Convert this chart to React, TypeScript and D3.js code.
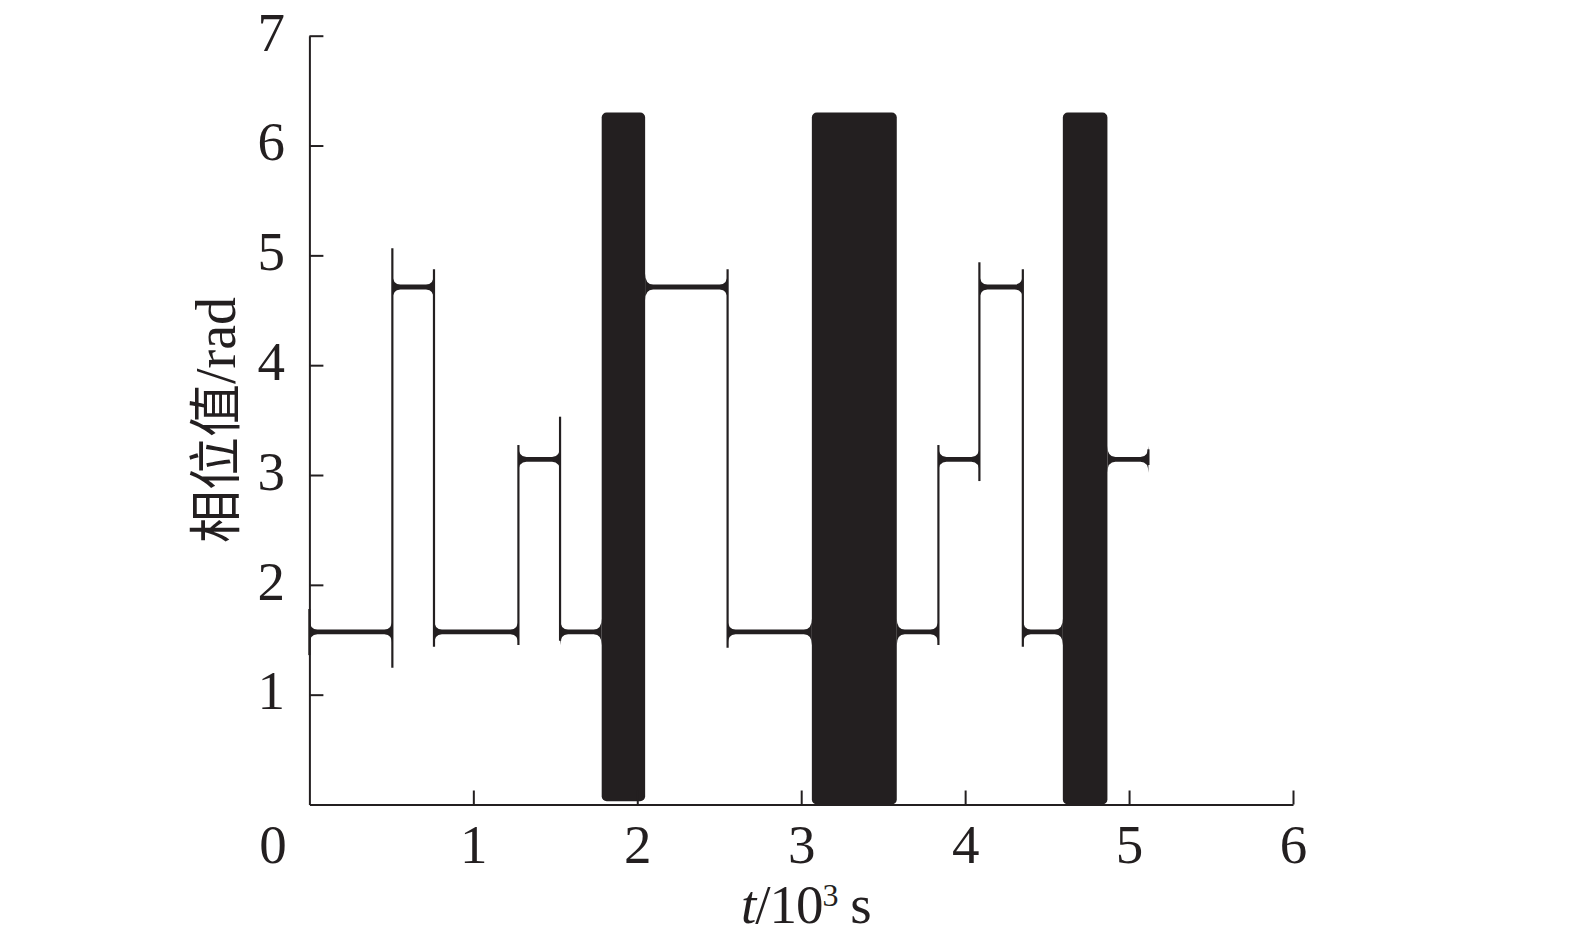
import * as d3 from "d3";
import { useRef, useEffect } from "react";

// flat phase levels (t in 10^3 s, value in rad)
const levelStart = [0, 0.506, 0.76, 1.275, 1.529, 2.048, 2.551, 3.583, 3.837, 4.087, 4.352, 4.868];
const levelEnd = [0.506, 0.76, 1.275, 1.529, 1.783, 2.551, 3.065, 3.837, 4.087, 4.352, 4.596, 5.118];
const levelValue = [1.571, 4.712, 1.571, 3.142, 1.571, 4.712, 1.571, 1.571, 3.142, 4.712, 1.571, 3.142];

// vertical jumps with their overshoot
const jumpTime = [0, 0.506, 0.76, 1.275, 1.529, 2.551, 3.837, 4.087, 4.352, 5.118];
const jumpLow = [1.36, 1.245, 1.437, 1.452, 1.491, 1.428, 1.452, 2.945, 1.437, 3.091];
const jumpHigh = [1.78, 5.064, 4.873, 3.273, 3.531, 4.873, 3.273, 4.937, 4.873, 3.234];

// wrapped (0..2pi) oscillation blocks
const bandStart = [1.783, 3.065, 4.596];
const bandEnd = [2.048, 3.583, 4.868];
const bandLow = [0.03, 0, 0];
const bandHigh = [6.3, 6.3, 6.3];

const xTicks = [0, 1, 2, 3, 4, 5, 6];
const yTicks = [1, 2, 3, 4, 5, 6, 7];

const ink = "#231f20";
const serif = "'Liberation Serif', 'Times New Roman', serif";

function levelPath(x0: number, x1: number, yc: number) {
  const h = 2.4; // half thickness of the flat line
  const rx = 8; // flare length
  const ry = 11; // flare height
  const p = d3.path();
  p.moveTo(x0, yc - h - ry);
  p.quadraticCurveTo(x0, yc - h, x0 + rx, yc - h);
  p.lineTo(x1 - rx, yc - h);
  p.quadraticCurveTo(x1, yc - h, x1, yc - h - ry);
  p.lineTo(x1, yc + h + ry);
  p.quadraticCurveTo(x1, yc + h, x1 - rx, yc + h);
  p.lineTo(x0 + rx, yc + h);
  p.quadraticCurveTo(x0, yc + h, x0, yc + h + ry);
  p.closePath();
  return p.toString();
}

export default function App() {
  const width = 1575;
  const height = 945;
  const gx = useRef<SVGGElement>(null);
  const gy = useRef<SVGGElement>(null);

  const x = d3.scaleLinear().domain([0, 6]).range([309.4, 1293]);
  const y = d3.scaleLinear().domain([0, 7]).range([804.5, 35.7]);

  useEffect(() => {
    const ax = d3.select(gx.current!);
    ax.call(d3.axisBottom(x).tickValues(xTicks).tickSizeInner(-14).tickSizeOuter(0).tickFormat(d3.format("d")));
    ax.attr("font-family", serif).attr("font-size", 55).attr("color", ink);
    ax.selectAll("path, line").attr("stroke-width", 2);
    ax.selectAll("text").attr("y", 19.5).attr("dy", "0.71em").attr("fill", ink);
    ax.selectAll<SVGTextElement, number>("text").filter((d) => d === 0).attr("x", -37);
    ax.selectAll<SVGLineElement, number>(".tick line").filter((d) => d === 0).remove();
  }, [gx, x]);

  useEffect(() => {
    const ay = d3.select(gy.current!);
    ay.call(d3.axisLeft(y).tickValues(yTicks).tickSizeInner(-14).tickSizeOuter(0).tickFormat(d3.format("d")));
    ay.attr("font-family", serif).attr("font-size", 55).attr("color", ink);
    ay.selectAll("path, line").attr("stroke-width", 2);
    ay.selectAll("text").attr("x", -24.4).attr("dy", "0.26em").attr("fill", ink);
  }, [gy, y]);

  return (
    <svg
      width={width}
      height={height}
      style={{ position: "absolute", left: 0, top: 0, background: "#fff" }}
    >
      <g fill={ink}>
        {bandStart.map((s, i) => (
          <rect
            key={i}
            x={x(s)}
            y={y(bandHigh[i])}
            width={x(bandEnd[i]) - x(s)}
            height={y(bandLow[i]) - y(bandHigh[i])}
            rx={5}
          />
        ))}
        {levelStart.map((s, i) => (
          <path key={i} d={levelPath(x(s), x(levelEnd[i]), y(levelValue[i]))} />
        ))}
      </g>
      <g stroke={ink} strokeWidth={2.2}>
        {jumpTime.map((t, i) => (
          <line key={i} x1={x(t)} x2={x(t)} y1={y(jumpLow[i])} y2={y(jumpHigh[i])} />
        ))}
      </g>
      <g ref={gx} transform={`translate(0,${y(0)})`} />
      <g ref={gy} transform={`translate(${x(0)},0)`} />
      <text x={741} y={923} fontFamily={serif} fontSize={55} fill={ink} letterSpacing={-1}>
        <tspan fontStyle="italic">t</tspan>
        <tspan>/10</tspan>
        <tspan fontSize={32} dy={-17}>3</tspan>
        <tspan dy={17}> s</tspan>
      </text>
      <text
        transform="translate(235,420) rotate(-90)"
        textAnchor="middle"
        fill={ink}
      >
        <tspan fontFamily="'Noto Sans CJK SC', sans-serif" fontSize={53}>相位值</tspan>
        <tspan fontFamily={serif} fontSize={56}>/rad</tspan>
      </text>
    </svg>
  );
}
